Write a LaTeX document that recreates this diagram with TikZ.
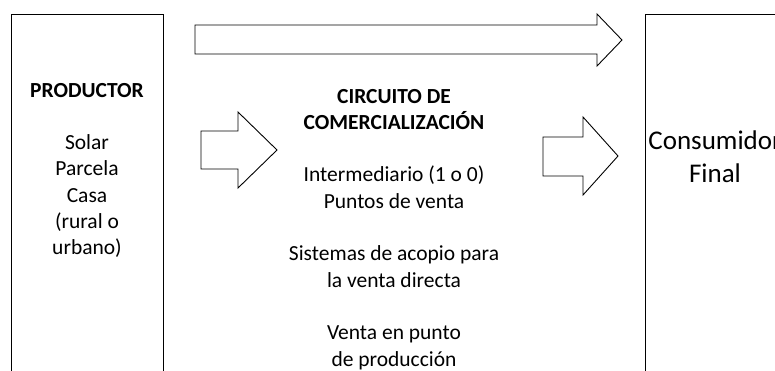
\documentclass[tikz,border=0pt]{standalone}
\usepackage{fontspec}
\setmainfont{Carlito}
\newcommand\mylines[1]{\begin{tabular}[t]{@{}c@{}}#1\end{tabular}}
\tikzset{
  panel/.style={draw=black, line width=0.9pt, fill=none, inner sep=0pt, anchor=north west, minimum width=152pt},
  blockarrow/.style={draw=black, line width=0.9pt, fill=white, line join=miter},
  txt/.style={font=\fontsize{21.5}{26.3}\selectfont, inner sep=0pt, anchor=base, text=black},
  bigtxt/.style={font=\fontsize{27}{33}\selectfont, inner sep=0pt, anchor=base, text=black}
}
\begin{document}
\begin{tikzpicture}[x=1pt,y=-1pt]
\useasboundingbox (0,0) rectangle (775,370);
\clip (0,0) rectangle (775,370);
\fill[white] (0,0) rectangle (775,370);
% boxes
\node[panel, minimum height=380pt] (prod) at (11,14) {};
\node[panel, minimum height=380pt] (cons) at (645,14) {};
% block arrows
\draw[blockarrow] (195,25) -- (597,25) -- (597,14) -- (622,40) -- (597,66) -- (597,54) -- (195,54) -- cycle;
\draw[blockarrow] (201,131) -- (238,131) -- (238,112) -- (277,150) -- (238,188) -- (238,169) -- (201,169) -- cycle;
\draw[blockarrow] (543,137) -- (583,137) -- (583,117) -- (618,156) -- (583,195) -- (583,176) -- (543,176) -- cycle;
% texts
\node[txt] (prodtxt) at (87,97) {\mylines{\textbf{PRODUCTOR}\\ \\Solar\\Parcela\\Casa\\(rural o\\urbano)}};
\node[txt] (circtxt) at (394,103) {\mylines{\textbf{CIRCUITO DE}\\\textbf{COMERCIALIZACIÓN}\\ \\Intermediario (1 o 0)\\Puntos de venta\\ \\Sistemas de acopio para\\la venta directa\\ \\Venta en punto\\de producción}};
\node[bigtxt] (constxt) at (715,149) {\mylines{Consumidor\\Final}};
\end{tikzpicture}
\end{document}
